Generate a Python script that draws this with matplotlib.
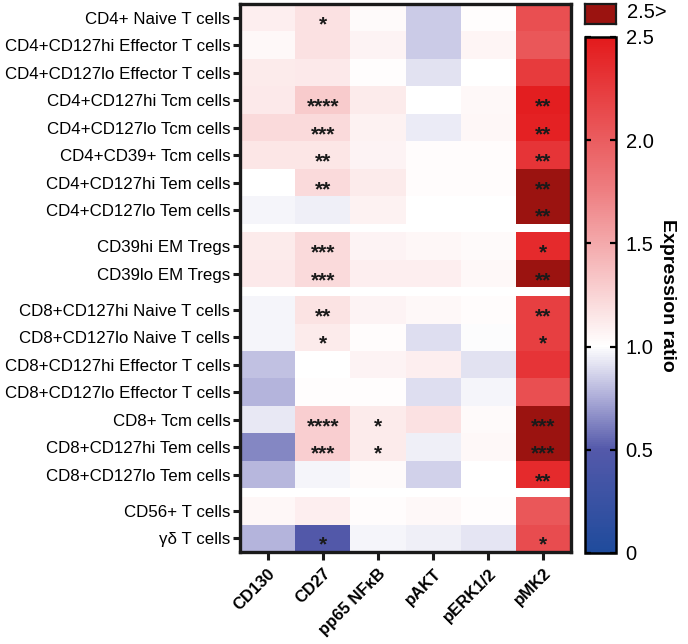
import numpy as np
import matplotlib
matplotlib.use("Agg")
import matplotlib.pyplot as plt
from matplotlib.colors import LinearSegmentedColormap, Normalize
from matplotlib.cm import ScalarMappable

plt.rcParams['font.family'] = ['Liberation Sans', 'DejaVu Sans']

cell_types = [
    "CD4+ Naive T cells", "CD4+CD127hi Effector T cells", "CD4+CD127lo Effector T cells",
    "CD4+CD127hi Tcm cells", "CD4+CD127lo Tcm cells", "CD4+CD39+ Tcm cells",
    "CD4+CD127hi Tem cells", "CD4+CD127lo Tem cells",
    "CD39hi EM Tregs", "CD39lo EM Tregs",
    "CD8+CD127hi Naive T cells", "CD8+CD127lo Naive T cells",
    "CD8+CD127hi Effector T cells", "CD8+CD127lo Effector T cells",
    "CD8+ Tcm cells", "CD8+CD127hi Tem cells", "CD8+CD127lo Tem cells",
    "CD56+ T cells", "γδ T cells",
]
groups = [0]*8 + [1]*2 + [2]*7 + [3]*2
markers = ["CD130", "CD27", "pp65 NFκB", "pAKT", "pERK1/2", "pMK2"]

# columns: CD130, CD27, pp65 NFkB, pAKT, pERK1/2, pMK2
cd130 = [1.10, 1.04, 1.12, 1.13, 1.22, 1.15, 1.00, 0.97, 1.12, 1.13,
         0.97, 0.97, 0.82, 0.78, 0.93, 0.64, 0.79, 1.05, 0.78]
cd27 = [1.18, 1.18, 1.13, 1.30, 1.22, 1.15, 1.22, 0.95, 1.22, 1.22,
        1.17, 1.12, 1.00, 1.01, 1.28, 1.28, 0.97, 1.10, 0.48]
pp65 = [1.03, 1.07, 1.01, 1.12, 1.08, 1.07, 1.12, 1.08, 1.07, 1.10,
        1.07, 1.02, 1.07, 1.01, 1.12, 1.12, 1.03, 1.02, 0.97]
pakt = [0.84, 0.84, 0.91, 1.00, 0.94, 1.02, 1.02, 1.00, 1.05, 1.10,
        1.04, 0.90, 1.10, 0.90, 1.18, 0.95, 0.86, 1.04, 0.95]
perk = [1.01, 1.06, 1.00, 1.04, 1.05, 1.02, 1.02, 1.00, 1.03, 1.04,
        1.02, 0.99, 0.91, 0.97, 1.03, 1.04, 1.00, 1.01, 0.92]
pmk2 = [2.10, 2.05, 2.25, 2.47, 2.45, 2.30, 3.00, 3.00, 2.38, 3.00,
        2.22, 2.22, 2.30, 2.10, 3.00, 3.00, 2.38, 2.05, 2.12]

stars_cd27 = ["*", "", "", "****", "***", "**", "**", "", "***", "***",
              "**", "*", "", "", "****", "***", "", "", "*"]
stars_pp65 = [""]*14 + ["*", "*", "", "", ""]
stars_pmk2 = ["", "", "", "**", "**", "**", "**", "**", "*", "**",
              "**", "*", "", "", "***", "***", "**", "", "*"]

values = np.array([cd130, cd27, pp65, pakt, perk, pmk2]).T
stars = {1: stars_cd27, 2: stars_pp65, 5: stars_pmk2}

fig = plt.figure(figsize=(6.88, 6.44), dpi=100)
W, H = 688, 644
ax = fig.add_axes([240/W, 1-552/H, 331/W, 548/H])

cmap = LinearSegmentedColormap.from_list(
    "er", [(0.0, "#1f4b9c"), (0.2, "#5459aa"), (0.3, "#acacd8"), (0.4, "#ffffff"),
           (0.7, "#ee7f82"), (1.0, "#e31a1c")])
cmap.set_over("#9b1310")
cmap.set_bad("white")
norm = Normalize(0, 2.5)

gap = 0.31
edges = [0.0]
rows_data = []
centers = []
y = 0.0
for i in range(len(cell_types)):
    if i > 0 and groups[i] != groups[i-1]:
        y += gap
        edges.append(y)
        rows_data.append(np.full(len(markers), np.nan))
    centers.append(y + 0.5)
    y += 1.0
    edges.append(y)
    rows_data.append(values[i])
data = np.ma.masked_invalid(np.array(rows_data))
ax.pcolormesh(np.arange(len(markers)+1), np.array(edges), data,
              cmap=cmap, norm=norm, shading='flat', edgecolors='none')
ax.set_xlim(0, len(markers))
ax.set_ylim(edges[-1], 0)

for c, slist in stars.items():
    for i, s in enumerate(slist):
        if s:
            ax.text(c + 0.5, centers[i] + 0.25, s, ha='center', va='center',
                    fontsize=15, fontweight='bold', color='#1a1a1a')

ax.set_yticks(centers)
ax.set_yticklabels(cell_types, fontsize=12.2)
ax.set_xticks(np.arange(len(markers)) + 0.5)
ax.set_xticklabels(markers, rotation=45, ha='right', rotation_mode='anchor',
                   fontsize=12, fontweight='bold')
ax.tick_params(axis='both', direction='out', width=2.2, length=5, color='#1a1a1a')
ax.tick_params(axis='y', pad=2)
ax.tick_params(axis='x', length=6, pad=4)
for sp in ax.spines.values():
    sp.set_linewidth(2.4)
    sp.set_color('#1a1a1a')

# colorbar
cax = fig.add_axes([585/W, 1-553/H, 31/W, 516/H])
cb = fig.colorbar(ScalarMappable(norm=norm, cmap=cmap), cax=cax)
cb.set_ticks([0, 0.5, 1.0, 1.5, 2.0, 2.5])
cb.set_ticklabels(["0", "0.5", "1.0", "1.5", "2.0", "2.5"])
cb.outline.set_linewidth(1.8)
cax.tick_params(direction='in', left=True, right=True, labelleft=False,
                labelright=True, length=4, width=1.6, labelsize=14.5, pad=7)
cb.set_label("Expression ratio", rotation=-90, fontsize=14, fontweight='bold',
             labelpad=16)

oax = fig.add_axes([585/W, 1-24/H, 31/W, 20/H])
oax.set_facecolor("#9b1310")
oax.set_xticks([]); oax.set_yticks([])
for sp in oax.spines.values():
    sp.set_linewidth(1.6)
    sp.set_color('#1a1a1a')
fig.text(627/W, 1-13/H, "2.5>", fontsize=14.5, va='center', ha='left')

fig.savefig("out.png", dpi=100, facecolor='white')
